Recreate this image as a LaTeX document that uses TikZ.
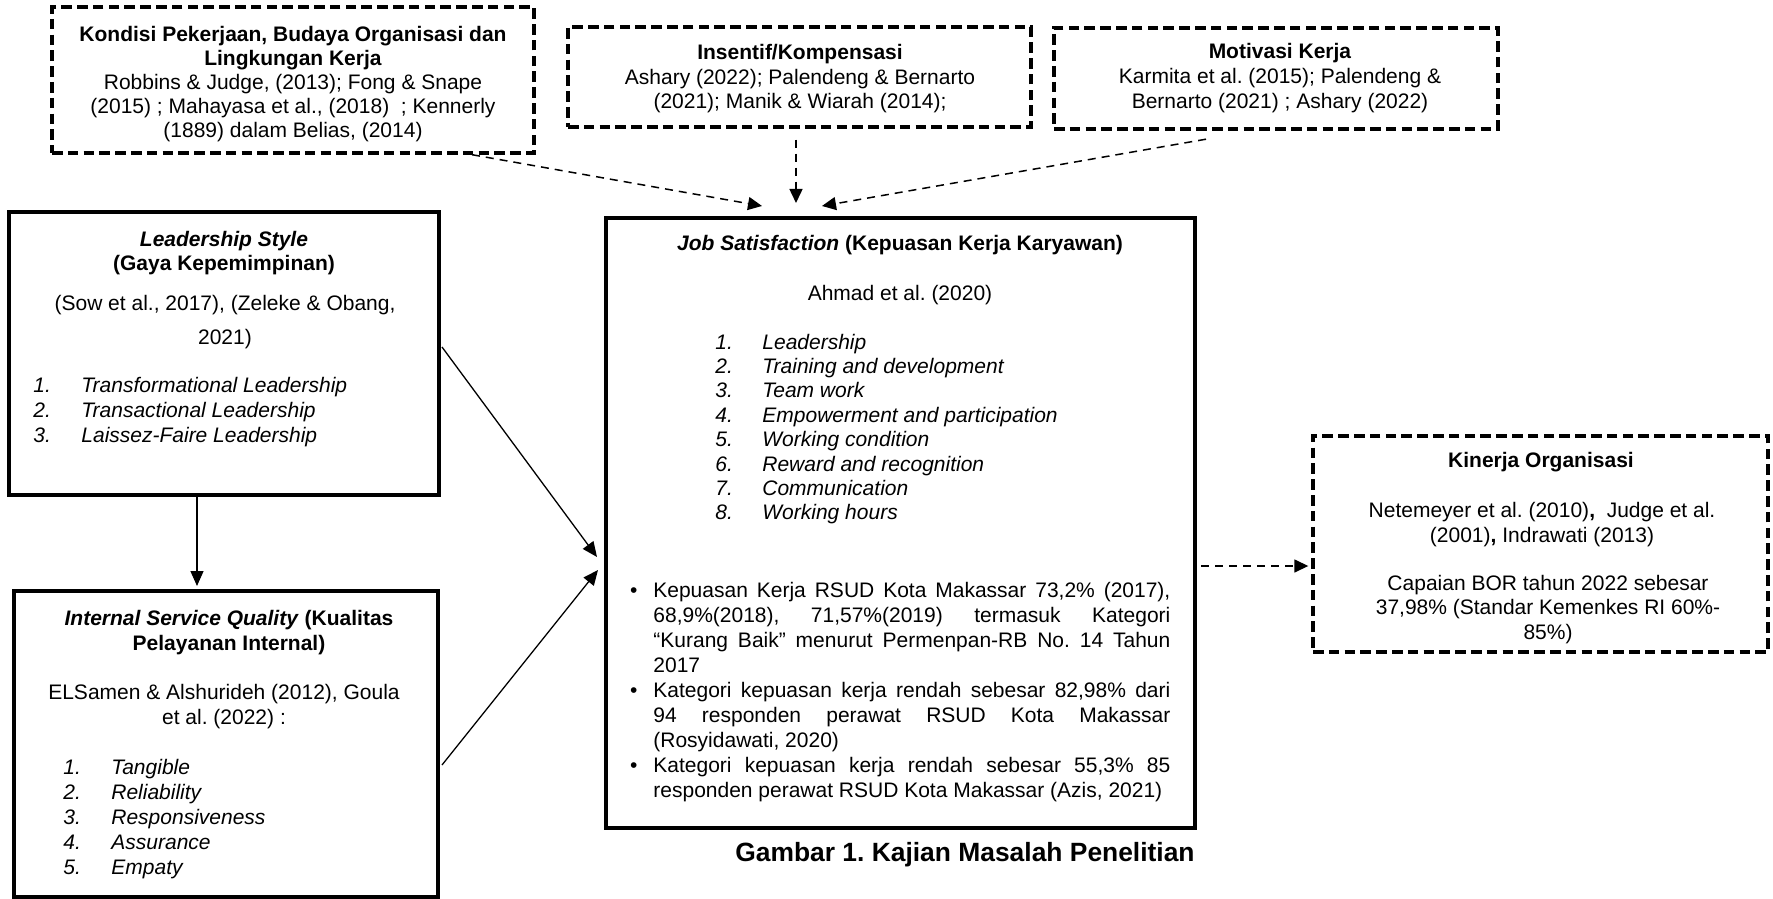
\documentclass[tikz,border=0pt]{standalone}
\usepackage{fontspec}
\setmainfont{Liberation Sans}
\usetikzlibrary{arrows.meta,calc}
\frenchspacing

\tikzset{
  x=0.5pt, y=-0.5pt,
  solidbox/.style={draw, line width=2pt, inner sep=0pt},
  dashbox/.style={draw, line width=1.7pt, dash pattern=on 5.3pt off 2.6pt, inner sep=0pt},
  txt/.style={inner sep=0pt, anchor=base, font=\fontsize{10.5pt}{12.25pt}\selectfont},
  txtl/.style={txt, anchor=base west},
  solidarrow/.style={line width=0.65pt, -{Triangle[length=7.5pt,width=6.5pt]}},
  dasharrow/.style={line width=0.75pt, dash pattern=on 4pt off 3pt, -{Triangle[length=7pt,width=6.5pt]}},
}

\begin{document}
\begin{tikzpicture}
\useasboundingbox[fill=white] (0,0) rectangle (1773,899);

% boxes
\node[dashbox, minimum width=241pt, minimum height=73pt] (kond) at (293,80) {};
\node[dashbox, minimum width=231.5pt, minimum height=50pt] (ins) at (799.5,77) {};
\node[dashbox, minimum width=222pt, minimum height=50.5pt] (mot) at (1276,78.5) {};
\node[solidbox, minimum width=215pt, minimum height=141.5pt] (ls) at (224,353.5) {};
\node[solidbox, minimum width=212pt, minimum height=153pt] (isq) at (226,744) {};
\node[solidbox, minimum width=294.5pt, minimum height=305pt] (js) at (900.5,523) {};
\node[dashbox, minimum width=227.5pt, minimum height=108pt] (kin) at (1540.5,544) {};

% Kondisi
\node[txt, font=\fontsize{10.5pt}{11.9pt}\selectfont] (kondt) at (293,42) {\parbox[t]{250pt}{\centering
  \textbf{Kondisi Pekerjaan, Budaya Organisasi dan}\\
  \textbf{Lingkungan Kerja}\\
  Robbins \& Judge, (2013); Fong \& Snape\\
  (2015) ; Mahayasa et al., (2018) \ ; Kennerly\\
  (1889) dalam Belias, (2014)}};

% Insentif
\node[txt] (inst) at (800,60) {\parbox[t]{230pt}{\centering
  \textbf{Insentif/Kompensasi}\\
  Ashary (2022); Palendeng \& Bernarto\\
  (2021); Manik \& Wiarah (2014);}};

% Motivasi
\node[txt, font=\fontsize{10.5pt}{12.5pt}\selectfont] (mott) at (1280,59) {\parbox[t]{220pt}{\centering
  \textbf{Motivasi Kerja}\\
  Karmita et al. (2015); Palendeng \&\\
  Bernarto (2021) ; Ashary (2022)}};

% Leadership
\node[txt, font=\fontsize{10.5pt}{12.5pt}\selectfont] (lst) at (224,246) {\parbox[t]{210pt}{\centering
  \textbf{\textit{Leadership Style}}\\
  \textbf{(Gaya Kepemimpinan)}}};
\node[txt, font=\fontsize{10.5pt}{17pt}\selectfont] (lsc) at (225,310) {\parbox[t]{210pt}{\centering
  (Sow et al., 2017), (Zeleke \& Obang,\\ 2021)}};
\node[txtl, font=\fontsize{10.5pt}{12.5pt}\selectfont\itshape] (lsn) at (33,392) {\parbox[t]{20pt}{1.\\2.\\3.}};
\node[txtl, font=\fontsize{10.5pt}{12.5pt}\selectfont\itshape] (lsl) at (81,392) {\parbox[t]{170pt}{Transformational Leadership\\Transactional Leadership\\Laissez-Faire Leadership}};

% ISQ
\node[txt, font=\fontsize{10.5pt}{12.5pt}\selectfont] (isqt) at (229,625) {\parbox[t]{210pt}{\centering
  \textbf{\textit{Internal Service Quality} (Kualitas}\\
  \textbf{Pelayanan Internal)}}};
\node[txt, font=\fontsize{10.5pt}{12.5pt}\selectfont] (isqc) at (224,699) {\parbox[t]{210pt}{\centering
  ELSamen \& Alshurideh (2012), Goula\\ et al. (2022) :}};
\node[txtl, font=\fontsize{10.5pt}{12.5pt}\selectfont\itshape] (isqn) at (63,774) {\parbox[t]{20pt}{1.\\2.\\3.\\4.\\5.}};
\node[txtl, font=\fontsize{10.5pt}{12.5pt}\selectfont\itshape] (isql) at (111,774) {\parbox[t]{150pt}{Tangible\\Reliability\\Responsiveness\\Assurance\\Empaty}};

% Job Satisfaction
\node[txt] (jst) at (900,250) {\textbf{\textit{Job Satisfaction} (Kepuasan Kerja Karyawan)}};
\node[txt] (jsa) at (900,300) {Ahmad et al. (2020)};
\node[txtl, font=\fontsize{10.5pt}{12.2pt}\selectfont\itshape] (jsn) at (715,349) {\parbox[t]{20pt}{1.\\2.\\3.\\4.\\5.\\6.\\7.\\8.}};
\node[txtl, font=\fontsize{10.5pt}{12.2pt}\selectfont\itshape] (jsl) at (762,349) {\parbox[t]{200pt}{Leadership\\Training and development\\Team work\\Empowerment and participation\\Working condition\\Reward and recognition\\Communication\\Working hours}};
\node[txtl, font=\fontsize{10.5pt}{12.5pt}\selectfont] (jsb) at (653,597) {\parbox[t]{258.5pt}{\parindent=0pt\hyphenpenalty=10000
  \leavevmode\llap{\textbullet\hspace{8pt}}Kepuasan Kerja RSUD Kota Makassar 73,2\% (2017),\linebreak
  68,9\%(2018), 71,57\%(2019) termasuk Kategori\linebreak
  “Kurang Baik” menurut Permenpan-RB No. 14 Tahun\linebreak
  2017\par
  \leavevmode\llap{\textbullet\hspace{8pt}}Kategori kepuasan kerja rendah sebesar 82,98\% dari\linebreak
  94 responden perawat RSUD Kota Makassar\linebreak
  (Rosyidawati, 2020)\par
  \leavevmode\llap{\textbullet\hspace{8pt}}Kategori kepuasan kerja rendah sebesar 55,3\% 85\linebreak
  responden perawat RSUD Kota Makassar (Azis, 2021)\par}};

% Kinerja
\node[txt] (kint) at (1541,467) {\textbf{Kinerja Organisasi}};
\node[txt, font=\fontsize{10.5pt}{12.5pt}\selectfont] (kinc) at (1542,517) {\parbox[t]{220pt}{\centering
  Netemeyer et al. (2010)\textbf{,} \ Judge et al.\\(2001)\textbf{,} Indrawati (2013)}};
\node[txt] (kinb) at (1548,590) {\parbox[t]{220pt}{\centering
  Capaian BOR tahun 2022 sebesar\\37,98\% (Standar Kemenkes RI 60\%-\\85\%)}};

% caption
\node[inner sep=0pt, anchor=base, font=\fontsize{13.2pt}{15pt}\selectfont\bfseries] (cap) at (965,861) {Gambar 1. Kajian Masalah Penelitian};

% connectors
\draw[dasharrow] ([xshift=89.5pt]kond.south) -- ([xshift=-69.25pt,yshift=5pt]js.north);
\draw[dasharrow] ([xshift=-1.75pt,yshift=-5.5pt]ins.south) -- ([xshift=-52.25pt,yshift=6.5pt]js.north);
\draw[dasharrow] ([xshift=-35pt,yshift=-4.25pt]mot.south) -- ([xshift=-39.25pt,yshift=5pt]js.north);
\draw[solidarrow] ([xshift=0.5pt,yshift=3.25pt]ls.east) -- ([xshift=-3.5pt,yshift=-17pt]js.west);
\draw[solidarrow] ([xshift=1pt,yshift=-10.5pt]isq.east) -- ([xshift=-3pt,yshift=-23.5pt]js.west);
\draw[solidarrow] ([xshift=-13.5pt]ls.south) -- ([xshift=-14.5pt,yshift=1.5pt]isq.north);
\draw[dasharrow] ([xshift=2pt,yshift=-21.5pt]js.east) -- ([xshift=-1.5pt,yshift=-11pt]kin.west);
\end{tikzpicture}
\end{document}
